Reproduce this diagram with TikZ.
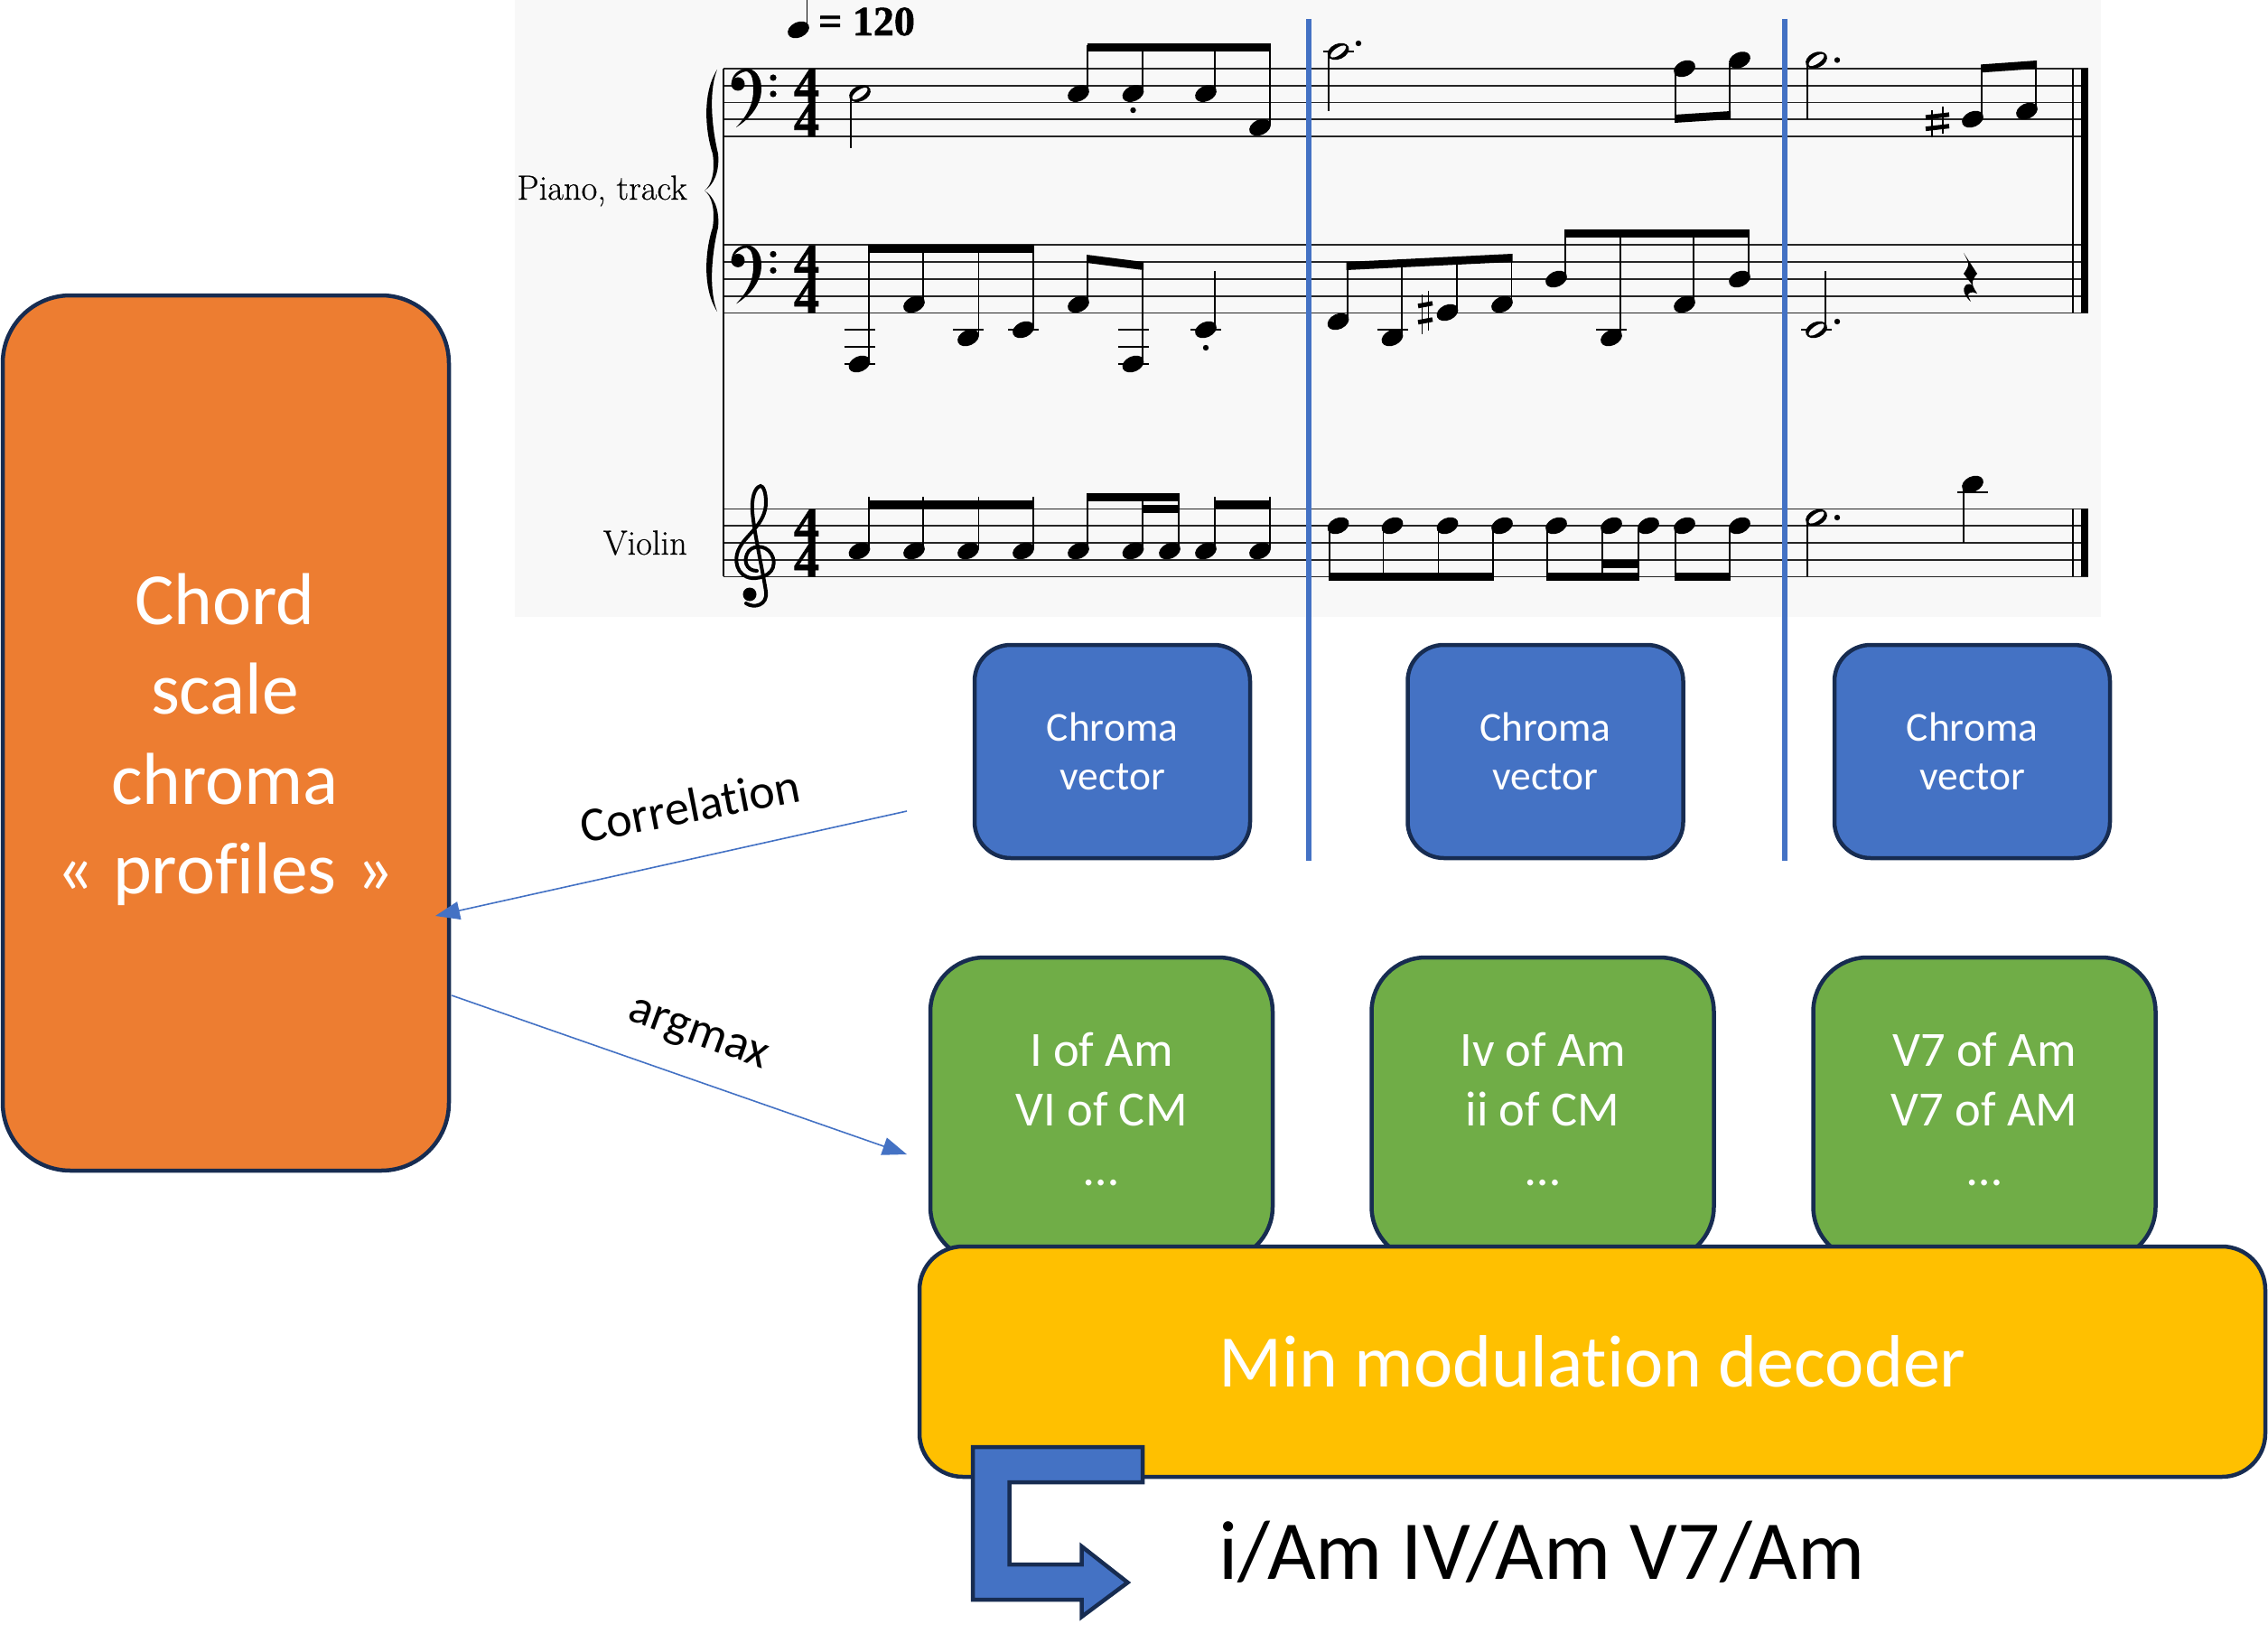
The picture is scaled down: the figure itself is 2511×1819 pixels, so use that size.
\documentclass[tikz,border=0pt]{standalone}
\usepackage{fontspec}
\newfontfamily\carl[Ligatures=NoCommon]{Carlito}
\newfontfamily\heavy[FakeBold=1.2]{Liberation Serif Bold}
\newfontfamily\scorefont[FakeBold=0.5]{Latin Modern Roman}
\usetikzlibrary{arrows.meta}
\definecolor{navy}{HTML}{172C51}
\definecolor{cblue}{HTML}{4472C4}
\definecolor{corange}{HTML}{ED7D31}
\definecolor{cgreen}{HTML}{70AD47}
\definecolor{cyellow}{HTML}{FFC000}
\definecolor{paper}{HTML}{F8F8F8}
\tikzset{
  box/.style={draw=navy,line width=4.5pt,text=white,align=center,outer sep=0pt,inner sep=0pt},
  orangebox/.style={box,fill=corange,rounded corners=75pt,minimum width=494pt,minimum height=969pt},
  orangetext/.style={align=center,inner sep=0pt,text=white,font=\carl\fontsize{81.5}{99.5}\selectfont},
  chromabox/.style={box,fill=cblue,rounded corners=40pt,minimum width=305pt,minimum height=236pt,font=\carl\fontsize{45.5}{54.5}\selectfont},
  greenbox/.style={box,fill=cgreen,rounded corners=60pt,minimum width=379pt,minimum height=336pt,font=\carl\fontsize{54.5}{66}\selectfont},
  yellowbox/.style={box,fill=cyellow,rounded corners=48pt,minimum width=1490pt,minimum height=255pt,font=\carl\fontsize{82}{96}\selectfont},
  flow/.style={draw=cblue,line width=1.6pt,-{Triangle[length=27pt,width=20pt]}},
  divider/.style={draw=cblue,line width=6.5pt},
  staffline/.style={draw=black!85,line width=1.8pt},
  stemline/.style={draw=black,line width=1.8pt},
  ledger/.style={draw=black,line width=2.2pt},
  label/.style={font=\carl\fontsize{54}{60}\selectfont,inner sep=0pt,text=black},
  scoretext/.style={font=\scorefont\fontsize{38.5}{40}\selectfont,inner sep=0pt,anchor=base east,text=black},
  numeral/.style={font=\heavy\fontsize{56}{56}\selectfont,inner sep=0pt,text=black}
}
\newcommand\qhead[2]{\fill[black] (#1,#2) ellipse[x radius=12.5, y radius=8.5, rotate=25];}
\newcommand\hhead[2]{\fill[black] (#1,#2) ellipse[x radius=12.5, y radius=8.5, rotate=25];
  \fill[paper] (#1,#2) ellipse[x radius=10, y radius=4, rotate=35];}
\newcommand\mbeam[4]{\fill[black] (#1,#2) -- (#3,#4) -- (#3,#4+9) -- (#1,#2+9) -- cycle;}
\newcommand\mledger[2]{\draw[ledger] (#1-17,#2) -- (#1+17,#2);}
\newcommand\mdot[2]{\fill[black] (#1,#2) circle[radius=3.2];}
\newcommand\mstaff[2]{\foreach \k in {0,1,2,3,4} \draw[staffline] (801,#1+\k*18.75) -- (#2,#1+\k*18.75);}
\newcommand\mbass[1]{
  \fill[black] (815,#1+65) .. controls (831,#1+55) and (843,#1+40) .. (843,#1+22)
    .. controls (843,#1+8) and (835,#1) .. (827,#1) .. controls (817,#1) and (810,#1+8) .. (810,#1+16)
    .. controls (812,#1+10) and (820,#1+3) .. (827,#1+3)
    .. controls (833,#1+5) and (834,#1+14) .. (834,#1+24)
    .. controls (834,#1+40) and (827,#1+52) .. (815,#1+65) -- cycle;
  \fill[black] (817,#1+17) circle[radius=7.5];
  \fill[black] (856,#1+10) circle[radius=3.6];
  \fill[black] (856,#1+28) circle[radius=3.6];
}
\newcommand\mtime[1]{
  \node[numeral] at (893,#1+19) {4};
  \node[numeral] at (893,#1+56.5) {4};
}
% x, y, half height, half width
\newcommand\msharp[4]{
  \draw[black,line width=1.6pt] (#1-#4*0.45,#2-#3+4) -- (#1-#4*0.45,#2+#3);
  \draw[black,line width=1.6pt] (#1+#4*0.45,#2-#3) -- (#1+#4*0.45,#2+#3-4);
  \draw[black,line width=5pt] (#1-#4,#2-#3*0.3) -- (#1+#4,#2-#3*0.3-3);
  \draw[black,line width=5pt] (#1-#4,#2+#3*0.45) -- (#1+#4,#2+#3*0.45-3);
}
\begin{document}
\begin{tikzpicture}[x=1pt,y=-1pt]
\useasboundingbox (0,0) rectangle (2511,1819);
% score sheet
\fill[paper] (570,0) rectangle (2326,683);
\mstaff{76}{2312}
\mstaff{271.4}{2312}
\mstaff{563.4}{2312}
\draw[black,line width=2.4pt] (801,76) -- (801,638.4);
\draw[black,line width=2.2pt] (2295,76) -- (2295,346.4);
\draw[black,line width=2.2pt] (2295,563.4) -- (2295,638.4);
\fill[black] (2303.5,76) rectangle (2312,346.4);
\fill[black] (2303.5,563.4) rectangle (2312,638.4);
% brace
\fill[black] (794,77) .. controls (776,105) and (782,150) .. (789,170)
  .. controls (792,190) and (788,205) .. (780,211)
  .. controls (788,217) and (792,232) .. (789,252)
  .. controls (782,272) and (776,317) .. (794,345)
  .. controls (783,317) and (790,272) .. (795,252)
  .. controls (797,232) and (790,217) .. (780,211)
  .. controls (790,205) and (797,190) .. (795,170)
  .. controls (790,150) and (783,105) .. (794,77) -- cycle;
% clefs and times
\mbass{76}
\mbass{271.4}
\mtime{76}
\mtime{271.4}
\mtime{563.4}
\draw[black,line width=4pt,line cap=round]
  (838,632) .. controls (826,632) and (822,620) .. (829,610)
  .. controls (836,602) and (852,604) .. (856,618)
  .. controls (860,634) and (845,641) .. (832,640)
  .. controls (816,638) and (811,620) .. (819,606)
  .. controls (826,592) and (848,580) .. (848,556)
  .. controls (848,545) and (845,538) .. (842,538)
  .. controls (835,540) and (832,552) .. (833,567)
  .. controls (835,590) and (845,635) .. (848,655)
  .. controls (850,670) and (835,674) .. (826,668);
\fill[black] (830,658) circle[radius=7.5];
% tempo
\qhead{884}{33}
\draw[stemline] (893.5,0) -- (893.5,30);
\node[font=\heavy\fontsize{46}{46}\selectfont,inner sep=0pt,anchor=base west,text=black] (tempo) at (906,39) {= 120};
% instrument names
\node[scoretext] (piano) at (761,221) {Piano, track};
\node[scoretext] (violin) at (761,614) {Violin};
% --- staff 1 ---
\hhead{952}{103.6}
\draw[stemline] (942,106) -- (942,164);
\foreach \x in {1194,1254.5,1335} {\qhead{\x}{103.6}}
\qhead{1395}{141}
\foreach \x in {1204,1265,1345} {\draw[stemline] (\x,100) -- (\x,50);}
\draw[stemline] (1406,138) -- (1406,50);
\mbeam{1203.5}{48}{1407}{48}
\mdot{1254.5}{122}
\mledger{1481.6}{57}
\hhead{1481.6}{57}
\draw[stemline] (1471,60) -- (1471,123);
\mdot{1504}{48}
\qhead{1865}{76} \qhead{1926}{66.5}
\draw[stemline] (1855,79) -- (1855,130);
\draw[stemline] (1915,70) -- (1915,125);
\mbeam{1854}{127}{1916}{123}
\hhead{2011}{66.5}
\draw[stemline] (2001,70) -- (2001,132);
\mdot{2034}{66.5}
\msharp{2145}{135}{17}{13}
\qhead{2184}{132} \qhead{2244}{123}
\draw[stemline] (2194,128) -- (2194,75);
\draw[stemline] (2254,120) -- (2254,70);
\mbeam{2193}{71.4}{2255}{67}
% --- staff 2 ---
\foreach \y in {365.2,384,402.7} {\mledger{951.5}{\y}\mledger{1254.5}{\y}}
\mledger{1072}{365.2}\mledger{1133}{365.2}\mledger{1335}{365.2}
\mledger{1541.5}{365.2}\mledger{1784}{365.2}\mledger{2011}{365.2}
\qhead{951.5}{403} \qhead{1012}{337} \qhead{1072}{374} \qhead{1133}{365}
\draw[stemline] (962,400) -- (962,275);
\draw[stemline] (1022,334) -- (1022,275);
\draw[stemline] (1083.5,371) -- (1083.5,275);
\draw[stemline] (1144,362) -- (1144,275);
\mbeam{961}{271.4}{1145}{271.4}
\qhead{1194}{337} \qhead{1254.5}{403}
\draw[stemline] (1204,334) -- (1204,285);
\draw[stemline] (1265,400) -- (1265,295);
\mbeam{1203}{282}{1266}{290}
\qhead{1335}{365}
\draw[stemline] (1345,362) -- (1345,300);
\mdot{1335}{385}
\qhead{1481.6}{356} \qhead{1541.5}{374} \qhead{1602.5}{346} \qhead{1663}{337}
\draw[stemline] (1491.6,353) -- (1491.6,295);
\draw[stemline] (1552,371) -- (1552,293);
\draw[stemline] (1613,343) -- (1613,290);
\draw[stemline] (1673.5,334) -- (1673.5,285);
\mbeam{1490.6}{290}{1674.5}{281}
\msharp{1578}{346}{24}{8}
\qhead{1723}{309} \qhead{1784}{374} \qhead{1865}{337} \qhead{1926}{309}
\foreach \x/\y in {1733/306,1794/371,1875/334,1936/306} {\draw[stemline] (\x,\y) -- (\x,258);}
\mbeam{1732}{253.6}{1937}{253.6}
\hhead{2011}{365}
\draw[stemline] (2021,362) -- (2021,300);
\mdot{2034}{356}
% quarter rest
\fill[black] (2174,280) -- (2189,303) .. controls (2184,309) and (2182,313) .. (2186,320)
  -- (2189,325) .. controls (2183,322) and (2178,324) .. (2179,328) -- (2182,334)
  .. controls (2175,328) and (2172,320) .. (2176,316) .. controls (2178,314) and (2182,314) .. (2184,316)
  -- (2174,303) .. controls (2178,297) and (2181,293) .. (2178,288) -- cycle;
% --- staff 3 ---
\foreach \x in {951.5,1012,1072,1133,1194,1254.5,1295,1335,1395} {\qhead{\x}{610}}
\foreach \x in {962,1022,1083.5,1144,1204,1265,1305,1345,1406} {\draw[stemline] (\x,607) -- (\x,550);}
\mbeam{961}{554}{1145}{554}
\mbeam{1203}{545.5}{1306}{545.5}
\mbeam{1264}{559}{1306}{559}
\mbeam{1344}{554}{1407}{554}
\foreach \x in {1481.6,1541.5,1602.5,1663,1723,1784,1825,1865,1926} {\qhead{\x}{582}}
\foreach \x in {1471.6,1531.5,1592.5,1653,1713,1774,1814,1855,1915} {\draw[stemline] (\x,585) -- (\x,638);}
\mbeam{1470.6}{634}{1654}{634}
\mbeam{1712}{634}{1815}{634}
\mbeam{1854}{634}{1916}{634}
\mbeam{1773}{620}{1815}{620}
\hhead{2011}{573}
\draw[stemline] (2001,576) -- (2001,638);
\mdot{2034}{573}
\qhead{2184}{536}
\mledger{2184}{545}
\draw[stemline] (2174,540) -- (2174,601);
% dividers
\coordinate (d1t) at (1449,21); \coordinate (d1b) at (1449,953);
\coordinate (d2t) at (1976,21); \coordinate (d2b) at (1976,953);
\draw[divider] (d1t) -- (d1b);
\draw[divider] (d2t) -- (d2b);
% boxes
\node[orangebox] (profiles) at (250,811.5) {};
\node[orangetext] (profilestext) at (249,819) {Chord\\scale\\chroma\\«\kern3pt{} profiles \kern3pt»};
\node[chromabox] (c1) at (1231.5,832) {Chroma\\vector};
\node[chromabox] (c2) at (1711,832) {Chroma\\vector};
\node[chromabox] (c3) at (2183.5,832) {Chroma\\vector};
\node[greenbox] (g1) at (1219.5,1228) {I of Am\\VI of CM\\…};
\node[greenbox] (g2) at (1708,1228) {Iv of Am\\ii of CM\\…};
\node[greenbox] (g3) at (2197,1228) {V7 of Am\\V7 of AM\\…};
\node[yellowbox] (dec) at (1763,1507.5) {Min modulation decoder};
% bent arrow
\draw[fill=cblue,draw=navy,line width=4.5pt,miter limit=6]
  (1077,1602) -- (1265,1602) -- (1265,1641) -- (1117.5,1641) -- (1117.5,1732) -- (1197.5,1732)
  -- (1197.5,1712) -- (1248.5,1752) -- (1197.5,1790) -- (1197.5,1771) -- (1077,1771) -- cycle;
\node[font=\carl\fontsize{92.8}{100}\selectfont,anchor=base west,inner sep=0pt,text=black] (result) at (1349,1748) {i/Am IV/Am V7/Am};
% flows
\coordinate (corrfrom) at (1004,898);
\coordinate (corrto) at (482,1014);
\coordinate (argfrom) at (500,1102);
\coordinate (argto) at (1004,1278);
\draw[flow] (corrfrom) -- (corrto);
\draw[flow] (argfrom) -- (argto);
\node[label,rotate=11] (lcorr) at (764,892) {Correlation};
\node[label,rotate=-20] (larg) at (772,1148) {argmax};
\end{tikzpicture}
\end{document}
